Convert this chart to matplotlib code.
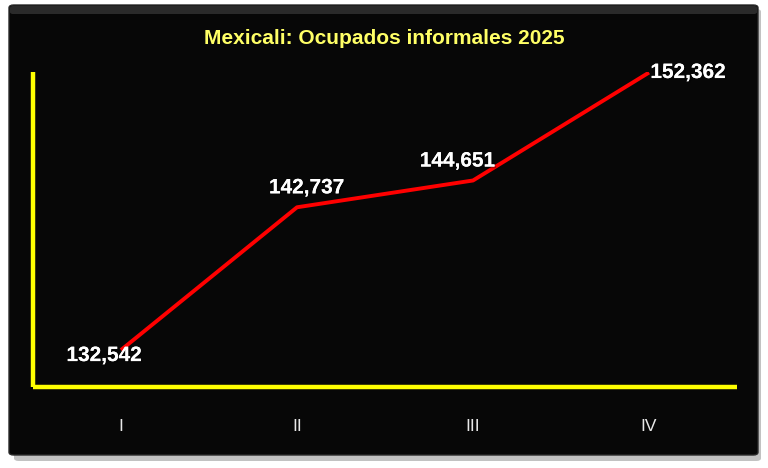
import matplotlib.pyplot as plt
import matplotlib.patheffects as pe
from matplotlib.patches import FancyBboxPatch

# data
trimestres = ["I", "II", "III", "IV"]
ocupados = [132542, 142737, 144651, 152362]
titulo = "Mexicali: Ocupados informales 2025"

plt.rcParams['font.family'] = ['Liberation Sans', 'DejaVu Sans']

fig = plt.figure(figsize=(7.68, 4.68), dpi=100)
fig.patch.set_facecolor("white")

# shadow + black panel
shadow = FancyBboxPatch((14 / 768, 1 - 461 / 468), 747 / 768, 452 / 468,
                        boxstyle="round,pad=0,rounding_size=0.006",
                        transform=fig.transFigure, facecolor="#9a9a9a",
                        edgecolor="none", alpha=0.6, zorder=0)
panel = FancyBboxPatch((9 / 768, 1 - 455 / 468), 749 / 768, 450 / 468,
                       boxstyle="round,pad=0,rounding_size=0.006",
                       transform=fig.transFigure, facecolor="#070707",
                       edgecolor="#2a2a2a", linewidth=1.0, zorder=1)
# slight bevel at the top of the panel
bevel = FancyBboxPatch((10 / 768, 1 - 14 / 468), 747 / 768, 8 / 468,
                       boxstyle="round,pad=0,rounding_size=0.004",
                       transform=fig.transFigure, facecolor="#3a3a3a",
                       edgecolor="none", alpha=0.7, zorder=1)
fig.patches.extend([shadow, panel, bevel])

ax = fig.add_axes([33 / 768, 1 - 387 / 468, 704 / 768, 315 / 468])
ax.set_facecolor("none")
ax.set_zorder(2)

x = list(range(len(trimestres)))
ax.plot(x, ocupados, color="#FF0000", linewidth=2.8, solid_capstyle="butt")

ax.set_xlim(-0.5, 3.5)
ax.set_ylim(129900, 152400)

for s in ["top", "right"]:
    ax.spines[s].set_visible(False)
for s in ["left", "bottom"]:
    ax.spines[s].set_color("#FFFF00")
    ax.spines[s].set_linewidth(3.2)
    ax.spines[s].set_capstyle("butt")

ax.set_yticks([])
ax.set_xticks(x)
ax.set_xticklabels(trimestres, color="#E8E8E8", fontsize=12.5)
ax.tick_params(axis="x", length=0, pad=23)

# label offsets in points (dx, dy, ha, va)
pos = [(-12, -4, "center", "center"), (7, 14, "center", "center"),
       (-11, 14, "center", "center"), (1, 0, "left", "center")]
for xi, yi, (dx, dy, ha, va) in zip(x, ocupados, pos):
    t = ax.annotate(f"{yi:,}", (xi, yi), xytext=(dx, dy), textcoords="offset points",
                    ha=ha, va=va, color="white", fontsize=15, fontweight="bold",
                    annotation_clip=False)
    t.set_path_effects([pe.withSimplePatchShadow(offset=(1.2, -1.2), shadow_rgbFace="black"), pe.Normal()])

fig.text(384 / 768, 1 - 38 / 468, titulo, ha="center", va="center",
         color="#FFFF66", fontsize=15, fontweight="bold", zorder=3)

fig.savefig("out.png", dpi=100, facecolor=fig.get_facecolor())
